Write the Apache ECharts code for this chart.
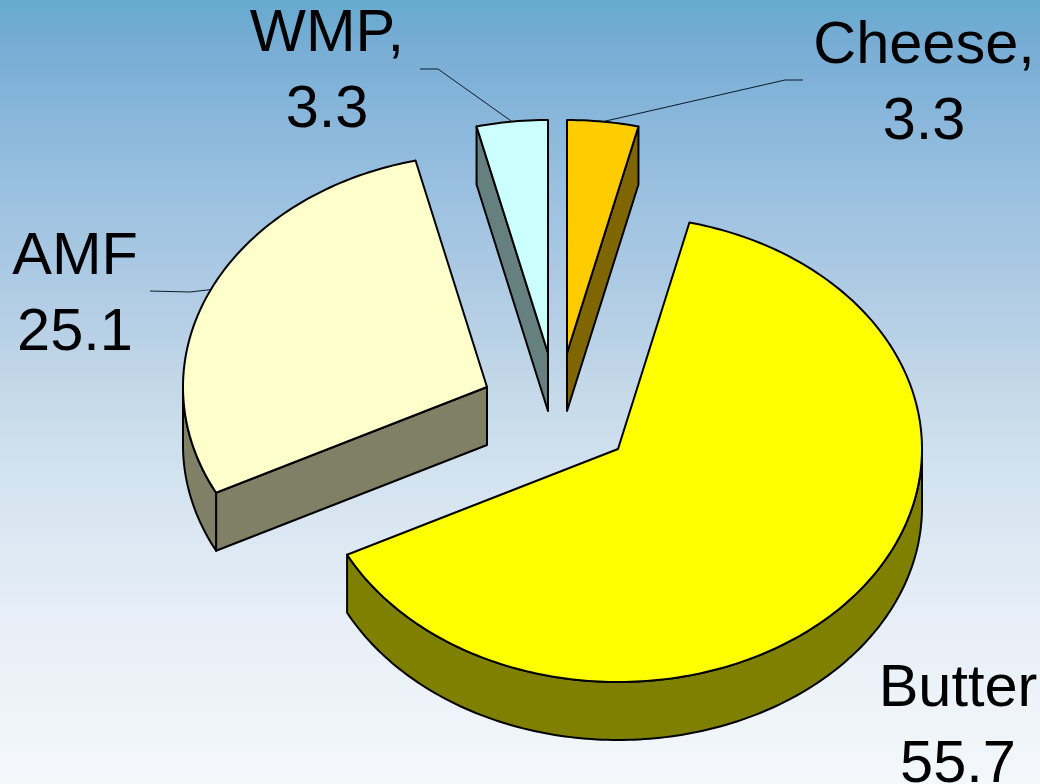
<!DOCTYPE html>
<html>
<head>
<meta charset="utf-8">
<title>Dairy pie</title>
<script src="https://cdn.jsdelivr.net/npm/echarts@6/dist/echarts.min.js"></script>
<style>
html, body { margin: 0; padding: 0; }
#chart { width: 1040px; height: 784px; }
</style>
</head>
<body>
<div id="chart"></div>
<script>
// data, in pie order, clockwise from 12 o'clock
var categories = ['Cheese', 'Butter', 'AMF', 'WMP'];
var values = [3.3, 55.7, 25.1, 3.3];
var labelLines = ['Cheese,\n3.3', 'Butter\n55.7', 'AMF\n25.1', 'WMP,\n3.3'];

// layout and styles
var apexes = [[567, 353], [618, 449], [487, 387], [548, 353]];
var labelPos = [[924, 85], [958, 728], [75, 296], [327, 73]];
var elbows = [[[803, 80], [785, 80]], null, [[150, 291], [190, 292]], [[420, 69], [438, 69]]];
var topColors = ['#ffcc00', '#ffff00', '#ffffcc', '#ccffff'];
var wallColors = ['#806600', '#808000', '#808066', '#668080'];
var RX = 304, RY = 233, DEPTH = 58;
var FONT = '"Liberation Sans", Arial, sans-serif';

var total = values.reduce(function (a, b) { return a + b; }, 0);

// point on the rim, angle in degrees clockwise from the top
function rim(apex, deg) {
	var r = deg * Math.PI / 180;
	return [apex[0] + RX * Math.sin(r), apex[1] - RY * Math.cos(r)];
}

function down(p) {
	return [p[0], p[1] + DEPTH];
}

function arcPoints(apex, from, to) {
	var pts = [];
	for (var d = from; d < to; d += 1) {
		pts.push(rim(apex, d));
	}
	pts.push(rim(apex, to));
	return pts;
}

function face(points, fill) {
	return {
		type: 'polygon',
		shape: { points: points },
		style: { fill: fill, stroke: '#000', lineWidth: 2, lineJoin: 'round' }
	};
}

function renderSlice(params) {
	var i = params.dataIndex;
	var apex = apexes[i];
	var start = 0;
	for (var k = 0; k < i; k++) {
		start += values[k] / total * 360;
	}
	var end = start + values[i] / total * 360;
	var kids = [];

	// cut faces, only the ones turned to the viewer
	[[start, start - 90], [end, end + 90]].forEach(function (e) {
		if (Math.cos(e[1] * Math.PI / 180) < -0.001) {
			var p = rim(apex, e[0]);
			kids.push(face([apex, p, down(p), down(apex)], wallColors[i]));
		}
	});

	// outer wall, front half of the ellipse only
	var wallFrom = Math.max(start, 90), wallTo = Math.min(end, 270);
	if (wallFrom < wallTo) {
		var upper = arcPoints(apex, wallFrom, wallTo);
		kids.push(face(upper.concat(upper.map(down).reverse()), wallColors[i]));
	}

	// top
	kids.push(face([apex].concat(arcPoints(apex, start, end)), topColors[i]));

	// leader line
	if (elbows[i]) {
		kids.push({
			type: 'polyline',
			shape: { points: elbows[i].concat([rim(apex, (start + end) / 2)]) },
			style: { fill: null, stroke: '#0c1a28', lineWidth: 1 }
		});
	}

	kids.push({
		type: 'text',
		style: {
			text: labelLines[i],
			x: labelPos[i][0],
			y: labelPos[i][1],
			align: 'center',
			verticalAlign: 'middle',
			font: '59.5px ' + FONT,
			lineHeight: 76,
			fill: '#000'
		}
	});

	return { type: 'group', children: kids };
}

var chart = echarts.init(document.getElementById('chart'));
chart.setOption({
	animation: false,
	backgroundColor: {
		type: 'linear', x: 0, y: 0, x2: 0, y2: 1,
		colorStops: [
			{ offset: 0, color: '#66aacf' },
			{ offset: 0.06, color: '#78add5' },
			{ offset: 0.23, color: '#98bfdf' },
			{ offset: 0.41, color: '#b6cfe6' },
			{ offset: 0.5, color: '#c5d9e8' },
			{ offset: 0.6, color: '#d2e2ef' },
			{ offset: 0.77, color: '#e5edf6' },
			{ offset: 1, color: '#f4f8fb' }
		]
	},
	series: [{
		type: 'custom',
		coordinateSystem: 'none',
		silent: true,
		renderItem: renderSlice,
		data: categories.map(function (c, i) {
			return { name: c, value: values[i] };
		})
	}]
});
</script>
</body>
</html>
